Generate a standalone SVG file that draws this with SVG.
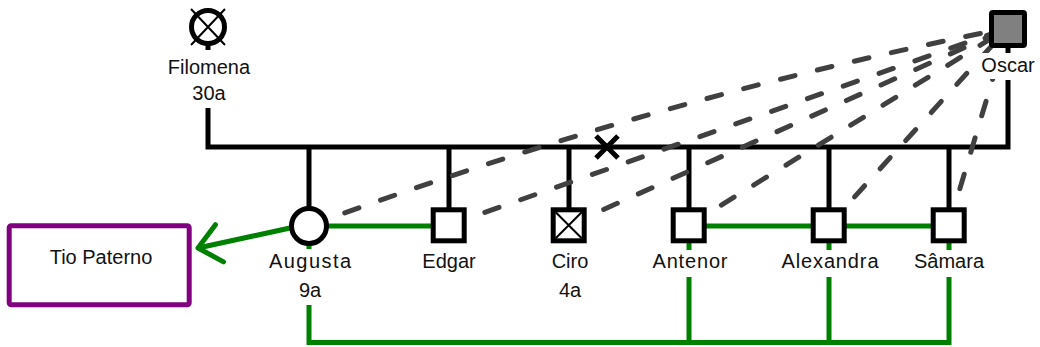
<svg xmlns="http://www.w3.org/2000/svg" width="1040" height="347" viewBox="0 0 1040 347">
<defs>
<style>
text{font-family:"Liberation Sans",Arial,sans-serif;font-size:20px;fill:#111;text-anchor:middle}
.blk{stroke:#000;stroke-width:5;fill:none}
.grn{stroke:#008000;stroke-width:5;fill:none}
.dsh{stroke:#404040;stroke-width:5;fill:none;stroke-dasharray:15 23;stroke-linecap:round}
.sq{fill:#fff;stroke:#000;stroke-width:5}
.thin{stroke:#000;stroke-width:2;fill:none}
</style>
<marker id="openArrow" markerUnits="userSpaceOnUse" markerWidth="40" markerHeight="40" viewBox="-30 -20 34 40" refX="0" refY="0" orient="auto" overflow="visible">
<path d="M-22,-19 L0,0 L-22,19" fill="none" stroke="#008000" stroke-width="5" stroke-linecap="round" stroke-linejoin="round"/>
</marker>
</defs>
<rect width="1040" height="347" fill="#fff"/>
<g id="connectors">
<path class="blk" d="M208,108 V147 H1008 V80"/>
<line class="blk" x1="208" y1="44" x2="208" y2="50"/>
<line class="blk" x1="1008" y1="45" x2="1008" y2="53"/>
<path class="blk" d="M309,147 V208 M449,147 V208 M569,147 V208 M689,147 V208 M829,147 V208 M949,147 V208"/>
<path class="blk" d="M596,136 L618,158 M618,136 L596,158"/>
<path class="dsh" d="M309,226 Q658,97 1008,28"/>
<path class="dsh" d="M449,225 L1008,28"/>
<path class="dsh" d="M569,225 L1008,28"/>
<path class="dsh" d="M689,225 L1008,28"/>
<path class="dsh" d="M829,225 L1008,28"/>
<path class="dsh" d="M949,225 L1008,28"/>
<path class="grn" d="M309,226 H449 M689,226 H949"/>
<path class="grn" d="M309,243 V249 M689,243 V250 M829,243 V250 M949,243 V250"/>
<path class="grn" d="M309,305 V342.5 H949 V277 M689,277 V342.5 M829,277 V342.5"/>
<line class="grn" x1="290" y1="228" x2="198" y2="248" marker-end="url(#openArrow)"/>
</g>
<g id="filomena">
<circle cx="208" cy="27" r="16.5" fill="#fff" stroke="#000" stroke-width="5"/>
<path class="thin" d="M191,9 L225,45 M225,9 L191,45" stroke-width="3"/>
<text x="209" y="74">Filomena</text>
<text x="209" y="100">30a</text>
</g>
<g id="oscar">
<rect x="977" y="53" width="63" height="26" fill="#fff"/>
<rect x="991.5" y="12.5" width="33" height="33" fill="#808080" stroke="#000" stroke-width="5" rx="1.5"/>
<text x="1008" y="72">Oscar</text>
</g>
<g id="augusta">
<circle cx="309" cy="226" r="17.5" fill="#fff" stroke="#000" stroke-width="5"/>
<text x="310" y="268" textLength="82" lengthAdjust="spacing">Augusta</text>
<text x="310" y="297">9a</text>
</g>
<g id="edgar">
<rect class="sq" x="433.2" y="209.8" width="31" height="31"/>
<text x="449" y="268">Edgar</text>
</g>
<g id="ciro">
<rect class="sq" x="553.2" y="209.8" width="31" height="31"/>
<path class="thin" d="M555.7,212.3 L581.7,238.3 M581.7,212.3 L555.7,238.3" stroke-width="1.6"/>
<text x="570" y="268">Ciro</text>
<text x="570" y="297">4a</text>
</g>
<g id="antenor">
<rect class="sq" x="673.2" y="209.8" width="31" height="31"/>
<text x="690" y="268" textLength="75" lengthAdjust="spacing">Antenor</text>
</g>
<g id="alexandra">
<rect class="sq" x="813.2" y="209.8" width="31" height="31"/>
<text x="830" y="268" textLength="97" lengthAdjust="spacing">Alexandra</text>
</g>
<g id="samara">
<rect class="sq" x="933.2" y="209.8" width="31" height="31"/>
<text x="949" y="268">Sâmara</text>
</g>
<g id="tio-paterno">
<rect x="9.2" y="225.7" width="180" height="79" rx="2" fill="#fff" stroke="#800080" stroke-width="5"/>
<text x="101" y="264">Tio Paterno</text>
</g>
</svg>
